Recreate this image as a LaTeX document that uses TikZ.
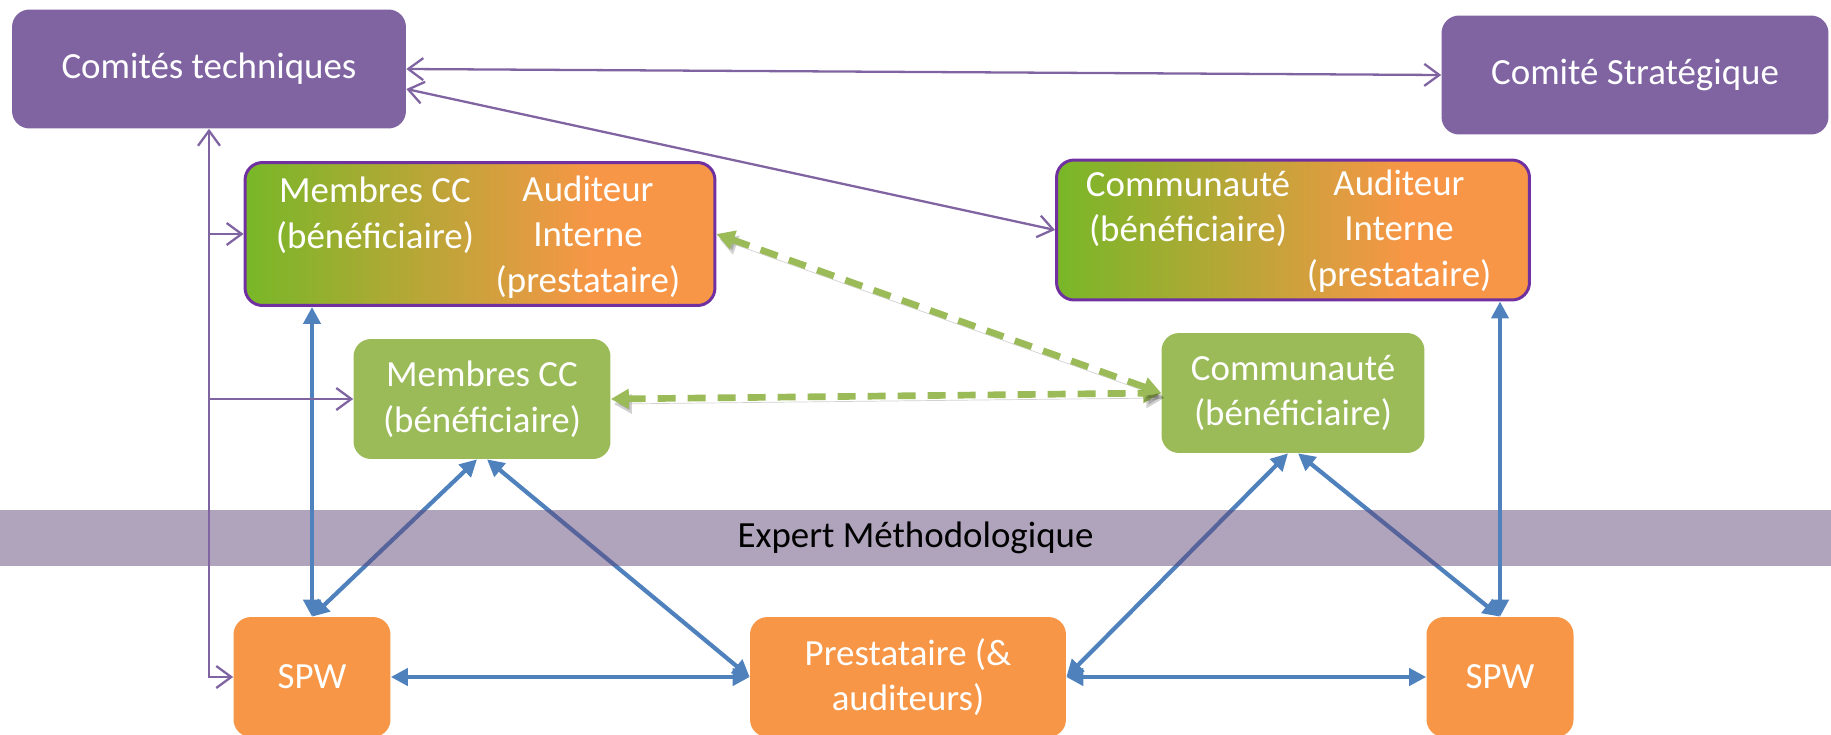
\documentclass[tikz,border=0pt]{standalone}
\usepackage{fontspec}
\setmainfont{Carlito}
\usetikzlibrary{arrows.meta,calc}

\definecolor{comite}{HTML}{8064A2}
\definecolor{cadre}{HTML}{7030A0}
\definecolor{benef}{HTML}{9BBB59}
\definecolor{presta}{HTML}{F79646}
\definecolor{lien}{HTML}{4F81BD}
\definecolor{bande}{HTML}{5F497A}
\definecolor{vertvif}{RGB}{120,183,40}
\pgfdeclarehorizontalshading{mixte}{100bp}{color(0bp)=(vertvif); color(25bp)=(vertvif); color(62bp)=(presta); color(100bp)=(presta)}

\tikzset{
    texte/.style={text=white, align=center, inner sep=0pt, font=\fontsize{21}{26}\selectfont},
    boite/.style={texte, rounded corners=0.35cm},
    comitebox/.style={boite, fill=comite},
    benefbox/.style={boite, fill=benef, minimum height=2.4cm},
    prestabox/.style={boite, fill=presta, minimum height=2.4cm},
    mixtebox/.style={boite, shading=mixte, draw=cadre, line width=1.7pt},
    purplien/.style={draw=comite, line width=1.3pt, >={Straight Barb[length=3mm,width=4.4mm]}},
    bleulien/.style={draw=lien, line width=2.4pt, >={Triangle[length=3.4mm,width=3.4mm]}},
    vertlien/.style={draw=benef, line width=3.8pt, dash pattern=on 0.36cm off 0.24cm, >={Triangle[length=3.6mm,width=3.8mm]},
        preaction={draw=black, opacity=0.18, transform canvas={shift={(0.06cm,-0.1cm)}}}},
}

\begin{document}
\begin{tikzpicture}[x=0.02cm, y=-0.02cm]
    \useasboundingbox (0,0) rectangle (1831,734);

    \node[comitebox, minimum width=7.88cm, minimum height=2.38cm] (ct) at (209,69) {Comités techniques};
    \node[comitebox, minimum width=7.74cm, minimum height=2.38cm] (cs) at (1635,75) {Comité Stratégique};

    \node[mixtebox, minimum width=9.4cm, minimum height=2.86cm] (ccbox) at (480,234) {};
    \node[texte] (ccgauche) at (375,215) {Membres CC\\(bénéficiaire)};
    \node[texte] (ccdroite) at (588,237) {Auditeur\\Interne\\(prestataire)};
    \node[mixtebox, minimum width=9.46cm, minimum height=2.8cm] (combox) at (1293,230) {};
    \node[texte] (comgauche) at (1188,209) {Communauté\\(bénéficiaire)};
    \node[texte] (comdroite) at (1399,231) {Auditeur\\Interne\\(prestataire)};

    \node[benefbox, minimum width=5.14cm] (cc) at (482,399) {Membres CC\\(bénéficiaire)};
    \node[benefbox, minimum width=5.26cm] (com) at (1293,393) {Communauté\\(bénéficiaire)};

    \node[prestabox, minimum width=3.14cm] (spwg) at (312,677) {SPW};
    \node[prestabox, minimum width=6.32cm] (prest) at (908,677) {Prestataire (\&\\auditeurs)};
    \node[prestabox, minimum width=2.94cm] (spwd) at (1500,677) {SPW};

    \draw[bleulien, <->] ([xshift=-0.1cm]cc.south) -- (spwg.north);
    \draw[bleulien, <->] ([xshift=0.1cm]cc.south) -- (prest.west);
    \draw[bleulien, <->] ([xshift=-0.1cm]com.south) -- (prest.east);
    \draw[bleulien, <->] ([xshift=0.1cm]com.south) -- (spwd.north);

    \node[fill=bande, fill opacity=0.5, text opacity=1, inner sep=0pt, minimum width=36.62cm, minimum height=1.12cm,
        font=\fontsize{21}{26}\selectfont] (expert) at (915.5,538) {Expert Méthodologique};

    \draw[bleulien, <->] (spwg.north |- ccbox.south) -- (spwg.north);
    \draw[bleulien, <->] (spwd.north |- combox.south) -- (spwd.north);
    \draw[bleulien, <->] (spwg.east) -- (prest.west);
    \draw[bleulien, <->] (prest.east) -- (spwd.west);

    \draw[purplien, <->] (ct.east) -- (cs.west);
    \draw[purplien, <->] ($(ct.east)+(0,20)$) -- (combox.west);
    \draw[purplien, <->] (ct.south) -- (ct.south |- spwg.west) -- (spwg.west);
    \draw[purplien, ->] (ct.south |- ccbox.west) -- (ccbox.west);
    \draw[purplien, ->] (ct.south |- cc.west) -- (cc.west);

    \draw[vertlien, <->] (cc.east) -- (com.west);
    \draw[vertlien, <->] (ccbox.east) -- (com.west);
\end{tikzpicture}
\end{document}
